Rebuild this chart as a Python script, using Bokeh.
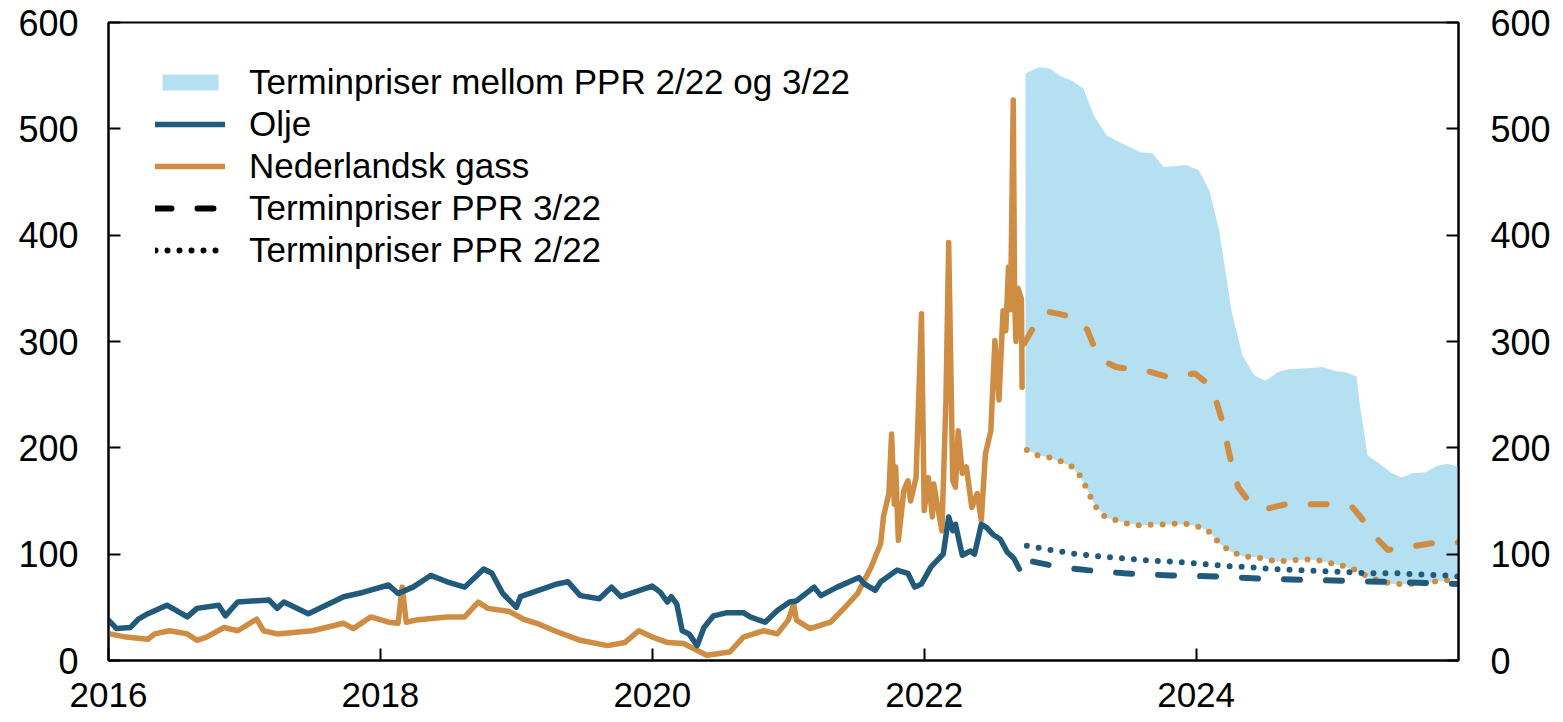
from bokeh.plotting import figure
from bokeh.models import (LinearAxis, FixedTicker, Legend, LegendItem,
                          ColumnDataSource, Range1d)
from bokeh.embed import file_html
from bokeh.resources import INLINE

# ---------------- data (decimal years) ----------------
oil_x = [2016.00, 2016.06, 2016.16, 2016.22, 2016.29, 2016.43, 2016.58, 2016.65, 2016.81, 2016.86,
         2016.95, 2017.18, 2017.24, 2017.29, 2017.47, 2017.60, 2017.73, 2017.87, 2018.06, 2018.13,
         2018.24, 2018.37, 2018.49, 2018.62, 2018.76, 2018.82, 2018.90, 2019.00, 2019.03, 2019.30,
         2019.38, 2019.47, 2019.61, 2019.70, 2019.77, 2020.00, 2020.06, 2020.11, 2020.14, 2020.18,
         2020.22, 2020.27, 2020.33, 2020.38, 2020.45, 2020.55, 2020.67, 2020.72, 2020.83, 2020.92,
         2021.01, 2021.06, 2021.19, 2021.24, 2021.36, 2021.52, 2021.56, 2021.64, 2021.68, 2021.80,
         2021.88, 2021.93, 2021.98, 2022.05, 2022.14, 2022.18, 2022.21, 2022.23, 2022.28, 2022.34,
         2022.37, 2022.42, 2022.46, 2022.51, 2022.56, 2022.61, 2022.66, 2022.70]
oil_y = [38, 30, 31, 39, 44, 52, 41, 49, 52, 42,
         55, 57, 49, 55, 44, 52, 60, 64, 71, 63,
         69, 80, 74, 69, 86, 82, 63, 50, 60, 72,
         74, 61, 58, 69, 60, 70, 64, 55, 60, 53,
         28, 25, 14, 31, 42, 45, 45, 41, 36, 47,
         55, 56, 69, 61, 69, 78, 72, 66, 74, 85,
         82, 69, 72, 88, 100, 135, 122, 128, 99, 103,
         100, 128, 125, 118, 114, 102, 96, 86]

gas_x = [2016.01, 2016.13, 2016.29, 2016.34, 2016.45, 2016.58, 2016.65, 2016.72, 2016.85, 2016.95,
         2017.09, 2017.14, 2017.24, 2017.50, 2017.73, 2017.80, 2017.93, 2018.06, 2018.13, 2018.16,
         2018.19, 2018.26, 2018.49, 2018.62, 2018.72, 2018.79, 2018.95, 2019.05, 2019.15, 2019.28,
         2019.47, 2019.67, 2019.80, 2019.90, 2020.00, 2020.11, 2020.23, 2020.40, 2020.57, 2020.67,
         2020.82, 2020.92, 2021.00, 2021.04, 2021.06, 2021.16, 2021.31, 2021.41, 2021.51, 2021.61,
         2021.68, 2021.70, 2021.74, 2021.76, 2021.78, 2021.79, 2021.81, 2021.85, 2021.88, 2021.90,
         2021.94, 2021.98, 2022.00, 2022.03, 2022.06, 2022.07, 2022.10, 2022.13, 2022.16, 2022.18,
         2022.21, 2022.23, 2022.25, 2022.28, 2022.31, 2022.35, 2022.39, 2022.42, 2022.45, 2022.49,
         2022.52, 2022.55, 2022.58, 2022.60, 2022.62, 2022.635, 2022.655, 2022.665, 2022.675, 2022.69,
         2022.715, 2022.72]
gas_y = [25, 22, 20, 25, 28, 25, 19, 22, 31, 28,
         39, 28, 25, 28, 35, 30, 41, 36, 35, 69,
         36, 38, 41, 41, 55, 49, 46, 39, 35, 28,
         19, 14, 17, 28, 22, 17, 16, 5, 8, 22,
         28, 25, 38, 53, 38, 30, 36, 49, 63, 88,
         110, 135, 157, 213, 147, 182, 113, 160, 169, 150,
         172, 326, 141, 172, 135, 166, 144, 122, 245, 393,
         169, 163, 216, 176, 182, 144, 157, 132, 194, 216,
         301, 245, 329, 310, 370, 330, 527, 340, 300, 350,
         340, 257]

band_x = [2022.745, 2022.84, 2022.92, 2023.00, 2023.09, 2023.17, 2023.25, 2023.34, 2023.46, 2023.59,
          2023.68, 2023.76, 2023.93, 2024.02, 2024.10, 2024.17, 2024.26, 2024.34, 2024.43, 2024.51,
          2024.60, 2024.68, 2024.84, 2024.93, 2025.03, 2025.10, 2025.18, 2025.20, 2025.26, 2025.35,
          2025.44, 2025.51, 2025.59, 2025.69, 2025.77, 2025.85, 2025.93]
band_hi = [552, 558, 557, 550, 545, 538, 512, 494, 486, 478,
           477, 464, 466, 461, 441, 404, 329, 287, 268, 263,
           271, 274, 275, 276, 272, 271, 267, 245, 193, 185,
           176, 172, 176, 177, 183, 185, 182]
band_lo = [199, 193, 191, 187, 182, 168, 148, 134, 130, 127,
           128, 128, 128, 126, 121, 110, 102, 98, 97, 96,
           93, 94, 95, 93, 90, 88, 84, 83, 79, 75,
           72, 72, 72, 73, 74, 75, 77]

gas_ppr3_x = [2022.735, 2022.82, 2022.91, 2022.99, 2023.09, 2023.20, 2023.26, 2023.33, 2023.41, 2023.52,
              2023.62, 2023.70, 2023.78, 2023.89, 2023.99, 2024.09, 2024.15, 2024.19, 2024.26, 2024.31,
              2024.38, 2024.53, 2024.66, 2024.82, 2024.96, 2025.15, 2025.21, 2025.32, 2025.41, 2025.57,
              2025.72, 2025.88, 2025.93]
gas_ppr3_y = [298, 317, 328, 326, 323, 311, 292, 281, 276, 274,
              273, 270, 267, 268, 270, 260, 243, 226, 185, 163,
              151, 143, 147, 147, 147, 144, 135, 116, 104, 107,
              110, 112, 111]

gas_ppr2_x = [2022.755, 2022.83, 2022.92, 2023.01, 2023.09, 2023.15, 2023.19, 2023.23, 2023.27, 2023.33,
              2023.41, 2023.51, 2023.60, 2023.69, 2023.78, 2023.87, 2023.95, 2024.04, 2024.11, 2024.17,
              2024.24, 2024.32, 2024.41, 2024.50, 2024.59, 2024.68, 2024.77, 2024.86, 2024.95, 2025.03,
              2025.13, 2025.20, 2025.28, 2025.37, 2025.46, 2025.54, 2025.64, 2025.73, 2025.82, 2025.93]
gas_ppr2_y = [198, 193, 191, 187, 182, 173, 163, 152, 143, 135,
              132, 128, 127, 128, 128, 129, 128, 125, 120, 110,
              104, 99, 97, 96, 93, 94, 95, 95, 93, 90,
              88, 83, 78, 74, 72, 72, 72, 74, 75, 77]

oil_ppr3_x = [2022.80, 2022.99, 2023.20, 2023.47, 2023.81, 2024.15, 2024.47, 2024.76, 2025.08, 2025.37,
              2025.69, 2025.93]
oil_ppr3_y = [93, 88, 85, 82, 80, 79, 77, 76, 75, 74, 73, 72]

oil_ppr2_x = [2022.755, 2022.93, 2023.12, 2023.29, 2023.48, 2023.65, 2023.84, 2024.02, 2024.20, 2024.38,
              2024.57, 2024.74, 2024.92, 2025.11, 2025.28, 2025.47, 2025.65, 2025.83, 2025.93]
oil_ppr2_y = [108, 104, 100, 98, 96, 94, 93, 91, 89, 88,
              86, 85, 84, 83, 82, 82, 81, 80, 79]

x_ticks = [2016, 2018, 2020, 2022, 2024]
y_ticks = [0, 100, 200, 300, 400, 500, 600]

OIL = "#215a7b"
GAS = "#cf8c43"
BAND = "#b5e0f1"
FONT = "Liberation Sans"

# ---------------- figure ----------------
p = figure(frame_width=1350, frame_height=638,
           x_range=Range1d(2016.0, 2025.93), y_range=Range1d(0, 600),
           output_backend="svg", toolbar_location=None,
           min_border_left=108, min_border_right=97,
           min_border_top=22, min_border_bottom=62)
p.xgrid.visible = False
p.ygrid.visible = False
p.outline_line_color = "black"
p.outline_line_width = 2
p.outline_line_alpha = 1
p.background_fill_color = "white"
p.border_fill_color = "white"

# axes
p.xaxis.ticker = FixedTicker(ticks=x_ticks)
p.xaxis.major_label_overrides = {t: str(t) for t in x_ticks}
p.yaxis.ticker = FixedTicker(ticks=y_ticks)
right_axis = LinearAxis(ticker=FixedTicker(ticks=y_ticks))
p.add_layout(right_axis, "right")

for ax in [p.xaxis[0], p.yaxis[0], right_axis]:
    ax.axis_line_color = "black"
    ax.axis_line_width = 2
    ax.major_tick_line_color = "black"
    ax.major_tick_line_width = 2
    ax.major_tick_in = 12
    ax.major_tick_out = 0
    ax.minor_tick_line_color = None
    ax.major_label_text_font = FONT
    ax.major_label_text_font_size = "36px"
    ax.major_label_text_color = "black"
p.xaxis[0].major_label_text_font_size = "35px"
p.yaxis[0].major_label_standoff = 30
right_axis.major_label_standoff = 32
p.xaxis[0].major_label_standoff = 22

# ---------------- glyphs ----------------
band_src = ColumnDataSource(dict(x=band_x, lo=band_lo, hi=band_hi))
r_band = p.varea(x="x", y1="lo", y2="hi", source=band_src, fill_color=BAND, fill_alpha=1)

r_gas = p.line(gas_x, gas_y, line_color=GAS, line_width=5.5, line_join="round", line_cap="round")
r_oil = p.line(oil_x, oil_y, line_color=OIL, line_width=5.5, line_join="round", line_cap="round")

DASH = "16 26"
DOT = "0 12"
p.line(gas_ppr2_x, gas_ppr2_y, line_color=GAS, line_width=6, line_dash=DOT, line_cap="round")
p.line(oil_ppr2_x, oil_ppr2_y, line_color=OIL, line_width=6, line_dash=DOT, line_cap="round")
p.line(gas_ppr3_x, gas_ppr3_y, line_color=GAS, line_width=6, line_dash=DASH, line_cap="round", line_join="round")
p.line(oil_ppr3_x, oil_ppr3_y, line_color=OIL, line_width=6, line_dash=DASH, line_cap="round", line_join="round")

# legend-only renderers (black styles); no visible data
nan = float("nan")
leg_src = ColumnDataSource(dict(x=[nan, nan], y=[nan, nan]))
r_leg_dash = p.line("x", "y", source=leg_src, line_color="black", line_width=6, line_dash=DASH, line_cap="round")
r_leg_dot = p.line("x", "y", source=leg_src, line_color="black", line_width=6, line_dash=DOT, line_cap="round")

legend = Legend(items=[
    LegendItem(label="Terminpriser mellom PPR 2/22 og 3/22", renderers=[r_band]),
    LegendItem(label="Olje", renderers=[r_oil]),
    LegendItem(label="Nederlandsk gass", renderers=[r_gas]),
    LegendItem(label="Terminpriser PPR 3/22", renderers=[r_leg_dash]),
    LegendItem(label="Terminpriser PPR 2/22", renderers=[r_leg_dot]),
], location=(47, 390))
legend.background_fill_alpha = 0
legend.border_line_color = None
legend.padding = 0
legend.margin = 0
legend.spacing = 2
legend.glyph_width = 70
legend.glyph_height = 20
legend.label_height = 40
legend.label_standoff = 24
legend.label_text_font = FONT
legend.label_text_font_size = "35px"
legend.label_text_color = "black"
legend.label_text_baseline = "middle"
p.add_layout(legend, "center")

open("out.html", "w").write(file_html(p, INLINE))
